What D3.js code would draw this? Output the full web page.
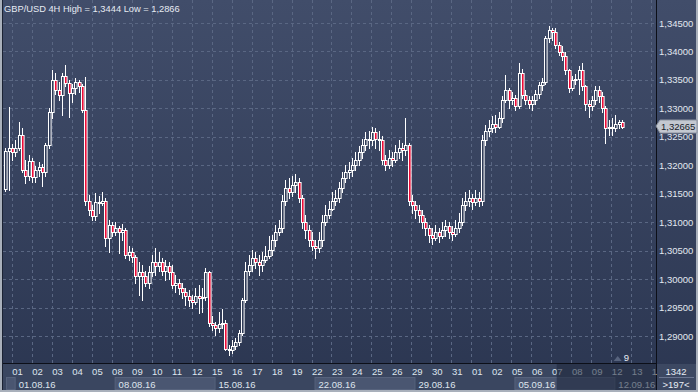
<!DOCTYPE html>
<html><head><meta charset="utf-8">
<script src="https://cdn.jsdelivr.net/npm/d3@7/dist/d3.min.js"></script>
<style>html,body{margin:0;padding:0;background:#a9b0bb;overflow:hidden}svg{display:block}</style>
</head><body><svg id="c" width="698" height="392"></svg>
<script>
const title = "GBP/USD 4H High = 1,3444 Low = 1,2866";
const open = [
1.3158,1.3225,1.3230,1.3223,1.3230,1.3254,1.3191,1.3181,1.3207,1.3179,
1.3191,1.3197,1.3188,1.3235,1.3293,1.3349,1.3332,1.3323,1.3356,1.3344,
1.3327,1.3335,1.3346,1.3339,1.3297,1.3138,1.3121,1.3110,1.3135,1.3133,
1.3138,1.3072,1.3095,1.3082,1.3089,1.3082,1.3086,1.3042,1.3047,1.3038,
1.3005,1.3012,1.3005,1.2994,1.3012,1.3030,1.3023,1.3030,1.3015,1.3023,
1.3012,1.2989,1.2994,1.2984,1.2977,1.2970,1.2963,1.2959,1.2970,1.2966,
1.2968,1.3012,1.2922,1.2919,1.2914,1.2921,1.2922,1.2878,1.2875,1.2882,
1.2889,1.2905,1.2963,1.3015,1.3024,1.3037,1.3030,1.3024,1.3033,1.3040,
1.3051,1.3068,1.3082,1.3089,1.3138,1.3160,1.3153,1.3165,1.3170,1.3142,
1.3100,1.3086,1.3068,1.3059,1.3054,1.3068,1.3100,1.3112,1.3124,1.3138,
1.3142,1.3160,1.3177,1.3188,1.3191,1.3200,1.3209,1.3223,1.3235,1.3247,
1.3244,1.3258,1.3247,1.3244,1.3209,1.3200,1.3212,1.3209,1.3223,1.3230,
1.3226,1.3235,1.3138,1.3130,1.3121,1.3112,1.3100,1.3089,1.3077,1.3072,
1.3082,1.3075,1.3086,1.3093,1.3082,1.3079,1.3089,1.3100,1.3130,1.3138,
1.3142,1.3135,1.3142,1.3138,1.3244,1.3261,1.3265,1.3272,1.3268,1.3283,
1.3314,1.3332,1.3314,1.3318,1.3305,1.3363,1.3323,1.3314,1.3307,1.3314,
1.3325,1.3341,1.3346,1.3423,1.3437,1.3434,1.3411,1.3399,1.3392,1.3367,
1.3335,1.3349,1.3351,1.3367,1.3339,1.3307,1.3304,1.3314,1.3332,1.3321,
1.3300,1.3265,1.3268,1.3265,1.3272,1.3276];
const high = [
1.3230,1.3302,1.3237,1.3244,1.3276,1.3265,1.3209,1.3218,1.3212,1.3198,
1.3205,1.3202,1.3240,1.3300,1.3367,1.3363,1.3346,1.3363,1.3376,1.3349,
1.3342,1.3353,1.3349,1.3342,1.3355,1.3147,1.3130,1.3151,1.3146,1.3153,
1.3142,1.3103,1.3100,1.3100,1.3093,1.3096,1.3089,1.3059,1.3054,1.3042,
1.3030,1.3024,1.3015,1.3023,1.3042,1.3054,1.3047,1.3037,1.3033,1.3030,
1.3024,1.3007,1.3001,1.2994,1.2984,1.2980,1.2972,1.2984,1.2989,1.2984,
1.3019,1.3015,1.2935,1.2924,1.2942,1.2947,1.2928,1.2884,1.2893,1.2896,
1.2910,1.2966,1.3030,1.3042,1.3051,1.3047,1.3042,1.3047,1.3059,1.3075,
1.3077,1.3095,1.3103,1.3147,1.3174,1.3177,1.3181,1.3184,1.3177,1.3147,
1.3112,1.3095,1.3082,1.3068,1.3082,1.3112,1.3130,1.3138,1.3153,1.3156,
1.3170,1.3188,1.3200,1.3205,1.3212,1.3223,1.3233,1.3247,1.3258,1.3261,
1.3267,1.3265,1.3261,1.3251,1.3218,1.3226,1.3223,1.3235,1.3244,1.3240,
1.3283,1.3240,1.3147,1.3138,1.3130,1.3121,1.3107,1.3095,1.3089,1.3095,
1.3089,1.3100,1.3103,1.3100,1.3093,1.3103,1.3117,1.3142,1.3153,1.3156,
1.3149,1.3156,1.3153,1.3253,1.3270,1.3279,1.3286,1.3288,1.3293,1.3321,
1.3358,1.3335,1.3328,1.3323,1.3379,1.3370,1.3332,1.3321,1.3321,1.3332,
1.3346,1.3353,1.3428,1.3444,1.3442,1.3441,1.3416,1.3409,1.3399,1.3370,
1.3356,1.3360,1.3374,1.3379,1.3341,1.3314,1.3321,1.3339,1.3339,1.3328,
1.3304,1.3279,1.3283,1.3288,1.3279,1.3279];
const low = [
1.3154,1.3156,1.3209,1.3216,1.3226,1.3188,1.3168,1.3174,1.3170,1.3170,
1.3181,1.3163,1.3181,1.3230,1.3283,1.3325,1.3314,1.3288,1.3339,1.3284,
1.3311,1.3325,1.3328,1.3293,1.3130,1.3112,1.3103,1.3103,1.3116,1.3130,
1.3059,1.3047,1.3075,1.3077,1.3045,1.3068,1.3037,1.3033,1.3030,1.2994,
1.2972,1.2963,1.2987,1.2984,1.3005,1.3007,1.3015,1.3007,1.2998,1.3001,
1.2984,1.2977,1.2973,1.2966,1.2954,1.2952,1.2949,1.2956,1.2940,1.2942,
1.2963,1.2917,1.2910,1.2901,1.2907,1.2914,1.2875,1.2866,1.2871,1.2878,
1.2884,1.2901,1.2959,1.3007,1.3015,1.3019,1.3007,1.3015,1.3030,1.3037,
1.3042,1.3059,1.3077,1.3082,1.3130,1.3142,1.3146,1.3153,1.3135,1.3089,
1.3072,1.3059,1.3051,1.3037,1.3047,1.3059,1.3095,1.3107,1.3121,1.3130,
1.3135,1.3153,1.3170,1.3177,1.3181,1.3191,1.3200,1.3212,1.3226,1.3230,
1.3235,1.3230,1.3226,1.3202,1.3191,1.3195,1.3198,1.3205,1.3212,1.3209,
1.3218,1.3130,1.3117,1.3107,1.3100,1.3089,1.3077,1.3065,1.3061,1.3068,
1.3065,1.3072,1.3075,1.3072,1.3068,1.3075,1.3082,1.3095,1.3121,1.3128,
1.3124,1.3130,1.3128,1.3130,1.3235,1.3251,1.3258,1.3258,1.3265,1.3276,
1.3311,1.3300,1.3307,1.3297,1.3300,1.3318,1.3307,1.3300,1.3297,1.3307,
1.3318,1.3332,1.3342,1.3416,1.3420,1.3406,1.3393,1.3385,1.3360,1.3328,
1.3332,1.3342,1.3325,1.3332,1.3297,1.3284,1.3297,1.3307,1.3311,1.3293,
1.3240,1.3253,1.3254,1.3261,1.3265,1.3265];
const close = [
1.3225,1.3230,1.3223,1.3230,1.3254,1.3191,1.3181,1.3207,1.3179,1.3191,
1.3197,1.3188,1.3235,1.3293,1.3349,1.3332,1.3323,1.3356,1.3344,1.3327,
1.3335,1.3346,1.3339,1.3297,1.3138,1.3121,1.3110,1.3135,1.3133,1.3138,
1.3072,1.3095,1.3082,1.3089,1.3082,1.3086,1.3042,1.3047,1.3038,1.3005,
1.3012,1.3005,1.2994,1.3012,1.3030,1.3023,1.3030,1.3015,1.3023,1.3012,
1.2989,1.2994,1.2984,1.2977,1.2970,1.2963,1.2959,1.2970,1.2966,1.2968,
1.3012,1.2922,1.2919,1.2914,1.2921,1.2922,1.2878,1.2875,1.2882,1.2889,
1.2905,1.2963,1.3015,1.3024,1.3037,1.3030,1.3024,1.3033,1.3040,1.3051,
1.3068,1.3082,1.3089,1.3138,1.3160,1.3153,1.3165,1.3170,1.3142,1.3100,
1.3086,1.3068,1.3059,1.3054,1.3068,1.3100,1.3112,1.3124,1.3138,1.3142,
1.3160,1.3177,1.3188,1.3191,1.3200,1.3209,1.3223,1.3235,1.3247,1.3244,
1.3258,1.3247,1.3244,1.3209,1.3200,1.3212,1.3209,1.3223,1.3230,1.3226,
1.3235,1.3138,1.3130,1.3121,1.3112,1.3100,1.3089,1.3077,1.3072,1.3082,
1.3075,1.3086,1.3093,1.3082,1.3079,1.3089,1.3100,1.3130,1.3138,1.3142,
1.3135,1.3142,1.3138,1.3244,1.3261,1.3265,1.3272,1.3268,1.3283,1.3314,
1.3332,1.3314,1.3318,1.3305,1.3363,1.3323,1.3314,1.3307,1.3314,1.3325,
1.3341,1.3346,1.3423,1.3437,1.3434,1.3411,1.3399,1.3392,1.3367,1.3335,
1.3349,1.3351,1.3367,1.3339,1.3307,1.3304,1.3314,1.3332,1.3321,1.3300,
1.3265,1.3268,1.3265,1.3272,1.3276,1.32665];
// time axis: two bars of Fri 29.07 precede Mon 01.08; 6 bars (4H) per trading day
const barsBeforeFirstDay = 2;
const barsPerDay = 6;
const dayTicks = ["01","02","03","04","05","08","09","10","11","12","15","16","17","18","19",
  "22","23","24","25","26","29","30","31","01","02","05","06","07","08","09","12","13","14"];
const weekTicks = ["01.08.16","08.08.16","15.08.16","22.08.16","29.08.16","05.09.16","12.09.16"];
const priceTicks = [1.345,1.340,1.335,1.330,1.325,1.320,1.315,1.310,1.305,1.300,1.295,1.290];
const lastPrice = 1.32665;
const barsLabel = "1342";
const shiftLabel = ">197<";
const shadeFromBar = 165.6;
const markerBar = 184.5, markerText = "9";

const W = 698, H = 392;
const plot = {l: 3, r: 656, t: 0, b: 363};
const svg = d3.select("#c");
const font = "'Liberation Sans', Arial, sans-serif";

const n = close.length;
const x = d3.scaleLinear().domain([-0.6, 195.1]).range([plot.l, plot.r - 1]);
const y = d3.scaleLinear().domain([1.290, 1.345]).range([336, 23]);

// frame
svg.append("rect").attr("width", W).attr("height", H).attr("fill", "#a9b0bb");
const defs = svg.append("defs");
const g1 = defs.append("linearGradient").attr("id","bg").attr("x1",0).attr("y1",0).attr("x2",0).attr("y2",1);
g1.append("stop").attr("offset","0%").attr("stop-color","#414d6a");
g1.append("stop").attr("offset","100%").attr("stop-color","#2b3651");
svg.append("rect").attr("x",2).attr("y",0).attr("width",694).attr("height",390).attr("fill","url(#bg)");
svg.append("line").attr("x1",2.5).attr("x2",2.5).attr("y1",0).attr("y2",390).attr("stroke","#1b2233");

// bottom axis background
svg.append("rect").attr("x",3).attr("y",plot.b+1).attr("width",plot.r-3).attr("height",390-plot.b-1).attr("fill","#3a4660");

// grid
const gridCol = "#5a6783";
const grid = svg.append("g").attr("stroke", gridCol).attr("stroke-dasharray","3,3").attr("stroke-width",1);
grid.selectAll("line.h").data(priceTicks).join("line")
  .attr("x1", plot.l).attr("x2", plot.r)
  .attr("y1", d => Math.round(y(d)) + 0.5).attr("y2", d => Math.round(y(d)) + 0.5);
const dayIdx = dayTicks.map((d, k) => barsBeforeFirstDay + barsPerDay * k);
grid.selectAll("line.v").data(dayIdx.filter(i => x(i) < plot.r - 2)).join("line")
  .attr("y1", plot.t).attr("y2", plot.b)
  .attr("x1", d => Math.round(x(d)) + 0.5).attr("x2", d => Math.round(x(d)) + 0.5);

// candles
const bars = d3.range(n).map(i => ({i, o: open[i], h: high[i], l: low[i], c: close[i]}));
const cg = svg.append("g");
cg.selectAll("line.w").data(bars).join("line")
  .attr("x1", d => Math.floor(x(d.i)) + 1.5).attr("x2", d => Math.floor(x(d.i)) + 1.5)
  .attr("y1", d => Math.round(y(d.h))).attr("y2", d => Math.round(y(d.l)) + 1)
  .attr("stroke", "#ffffff").attr("stroke-width", 1);
cg.selectAll("rect.b").data(bars).join("rect")
  .attr("x", d => Math.floor(x(d.i)) + 0.5)
  .attr("y", d => Math.round(y(Math.max(d.o, d.c))) + 0.5)
  .attr("width", 2.6)
  .attr("height", d => Math.max(0, Math.round(y(Math.min(d.o, d.c))) - Math.round(y(Math.max(d.o, d.c)))))
  .attr("fill", d => d.c < d.o ? "#ee0a36" : "#2f3b57")
  .attr("stroke", "#ffffff").attr("stroke-width", 1);

// separators
svg.append("line").attr("x1", plot.l).attr("x2", plot.r).attr("y1", plot.b + 0.5).attr("y2", plot.b + 0.5).attr("stroke", "#0c0f18");
svg.append("line").attr("x1", plot.r + 0.5).attr("x2", plot.r + 0.5).attr("y1", 0).attr("y2", 390).attr("stroke", "#0c0f18");

// title
svg.append("text").attr("x", 4).attr("y", 12).text(title)
  .attr("font-family", font).attr("font-size", 9.3).attr("fill", "#e6ebf3");

// price labels
const fmt = v => d3.format(".5f")(v).replace(".", ",");
svg.append("g").selectAll("text").data(priceTicks).join("text")
  .attr("x", 659).attr("y", d => y(d) + 3.5).text(fmt)
  .attr("font-family", font).attr("font-size", 9.5).attr("fill", "#e2e8f0");

// current price marker
const ly = Math.round(y(lastPrice)) - 1;
svg.append("path").attr("d", `M${plot.r},${ly} L${plot.r+4},${ly-6} L697,${ly-6} L697,${ly+7} L${plot.r+4},${ly+7} Z`)
  .attr("fill", "#c3c8d0").attr("stroke", "#8c93a0");
svg.append("text").attr("x", 661).attr("y", ly + 4).text(fmt(lastPrice))
  .attr("font-family", font).attr("font-size", 9.5).attr("fill", "#151a28");

// week boxes
const weekIdx = weekTicks.map((d, k) => barsBeforeFirstDay + barsPerDay * 5 * k);
const boxes = [[ -0.6, weekIdx[0]], [weekIdx[1], weekIdx[2]], [weekIdx[3], weekIdx[4]], [weekIdx[5], weekIdx[6]]];
svg.append("g").selectAll("rect").data(boxes).join("rect")
  .attr("x", d => Math.max(plot.l + 1, x(d[0]) + 3) + 0.5).attr("y", 377.5)
  .attr("width", d => x(d[1]) - Math.max(plot.l + 1, x(d[0]) + 3) + 3).attr("height", 12)
  .attr("fill", "#4a5671").attr("stroke", "#56627c");

// day labels
svg.append("g").selectAll("text").data(dayTicks).join("text")
  .attr("x", (d, k) => x(dayIdx[k]) + 0.5).attr("y", 375).text(d => d)
  .attr("font-family", font).attr("font-size", 9.5).attr("fill", "#dfe5ee");
svg.append("g").selectAll("text").data(weekTicks).join("text")
  .attr("x", (d, k) => x(weekIdx[k]) + 7).attr("y", 387.5).text(d => d)
  .attr("font-family", font).attr("font-size", 9.5).attr("fill", "#dfe5ee");

// shaded right part of time axis
svg.append("rect").attr("x", x(shadeFromBar)).attr("y", plot.b + 1).attr("width", plot.r - x(shadeFromBar)).attr("height", 390 - plot.b - 1)
  .attr("fill", "#1e263a").attr("opacity", 0.55);

// marker
const mx = x(markerBar);
svg.append("path").attr("d", `M${mx-6},${361} L${mx-2},${356} L${mx+2},${361} Z`).attr("fill", "#58647e");
svg.append("text").attr("x", mx + 4).attr("y", 361).text(markerText)
  .attr("font-family", font).attr("font-size", 9.5).attr("fill", "#e8edf5");

// bottom-right info box
svg.append("rect").attr("x", plot.r + 1).attr("y", plot.b + 1).attr("width", 696 - plot.r - 1).attr("height", 390 - plot.b - 1).attr("fill", "#3c4862");
svg.append("line").attr("x1", plot.r + 3).attr("x2", 694).attr("y1", 377.5).attr("y2", 377.5).attr("stroke", "#6a7590");
svg.append("text").attr("x", 676).attr("y", 374.5).attr("text-anchor", "middle").text(barsLabel)
  .attr("font-family", font).attr("font-size", 9.5).attr("fill", "#e8edf5");
svg.append("text").attr("x", 676).attr("y", 387.5).attr("text-anchor", "middle").text(shiftLabel)
  .attr("font-family", font).attr("font-size", 9.5).attr("fill", "#e8edf5");
</script></body></html>
